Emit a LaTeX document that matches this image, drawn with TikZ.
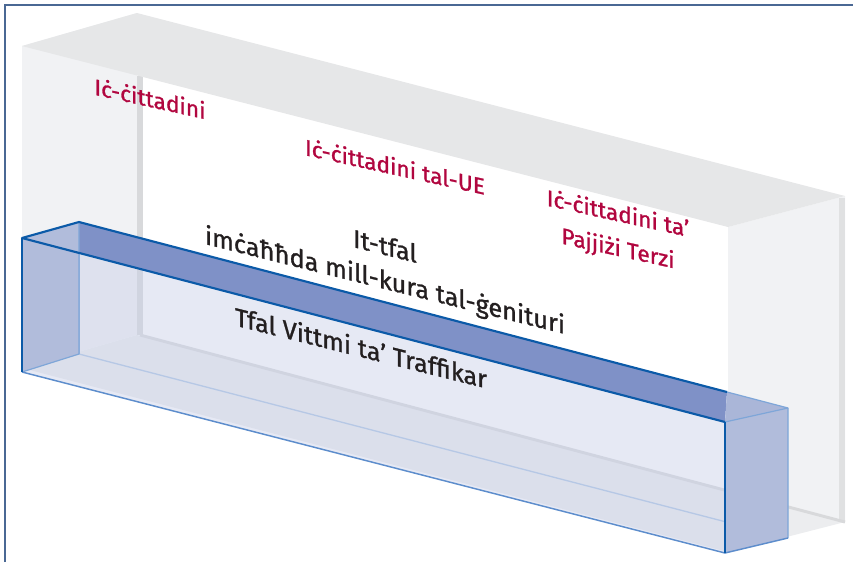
\documentclass[tikz,border=0pt]{standalone}
\usepackage{fontspec}
\setmainfont{Fira Sans}[FakeBold=1.1]
\usepackage{tikz}
\usetikzlibrary{positioning}

\definecolor{frameBlue}{HTML}{4A6894}
\definecolor{topGrey}{HTML}{E6E7E8}
\definecolor{wallGrey}{HTML}{F1F2F4}
\definecolor{floorGrey}{HTML}{ECEDEF}
\definecolor{edgeGrey}{HTML}{D8D9DB}
\definecolor{lidBlue}{HTML}{7F91C7}
\definecolor{endBlue}{HTML}{B1BCDB}
\definecolor{paleLid}{HTML}{AAB6D8}
\definecolor{glassBlue}{HTML}{C8CFE8}
\definecolor{darkEdge}{HTML}{0B5AA8}
\definecolor{midEdge}{HTML}{5D8DCC}
\definecolor{lightEdge}{HTML}{7EA6D8}
\definecolor{paleEdge}{HTML}{A8C3E4}
\definecolor{labelRed}{HTML}{B1063F}
\definecolor{labelBlack}{HTML}{231F20}

\begin{document}
\begin{tikzpicture}[
      x=0.75pt, y=-0.75pt,
      darkLine/.style  = {draw=darkEdge, line width=1.6pt, line join=round},
      lightLine/.style = {draw=lightEdge, line width=0.9pt, line join=round},
      redLabel/.style  = {text=labelRed, align=center, anchor=base,
        font=\fontsize{17}{26}\selectfont, yslant=-0.22, inner sep=0pt},
      blackLabel/.style = {text=labelBlack, align=center, anchor=base,
        font=\fontsize{19}{25.5}\selectfont, yslant=-0.25, inner sep=0pt}
    ]
    \useasboundingbox (0,0) rectangle (853,562);

    % ---------------- frame ----------------
    \draw[frameBlue, line width=1.5pt] (5,562) -- (5,5) -- (853,5);

    % ---------------- grey box ----------------
    \coordinate (gFLT) at (22,46);
    \coordinate (gBLT) at (137,13);
    \coordinate (gBRT) at (845,196);
    \coordinate (gFRT) at (728,227);
    \coordinate (gFLB) at (22,368);
    \coordinate (gBLB) at (137,335);
    \coordinate (gBRB) at (845,522);
    \coordinate (gFRB) at (728,552);
    \coordinate (gFoot) at (728,491);

    \fill[floorGrey] (gFLB) -- (gBLB) -- (gBRB) -- (gFRB) -- cycle;
    \fill[wallGrey] (gFLT) -- (gBLT) -- (gBLB) -- (gFLB) -- cycle;
    \fill[wallGrey] (gFRT) -- (gBRT) -- (gBRB) -- (gFoot) -- cycle;
    \fill[edgeGrey] (137,76) rectangle (143,335);
    \fill[edgeGrey!80] (839,198) rectangle (845,522);
    \draw[edgeGrey, line width=2.2pt] (140,335) -- (gBRB);
    \fill[topGrey] (gFLT) -- (gBLT) -- (gBRT) -- (gFRT) -- cycle;

    % ---------------- blue box ----------------
    \coordinate (bFLT) at (22,238);
    \coordinate (bBLT) at (79,222);
    \coordinate (bBRT) at (788,408);
    \coordinate (bFRT) at (725,422);
    \coordinate (bFLB) at (22,372);
    \coordinate (bBLB) at (79,354);
    \coordinate (bBRB) at (788,538);
    \coordinate (bFRB) at (725,553);
    \coordinate (bCut) at (727,392);

    % back edges
    \draw[paleEdge, line width=1pt] (bBLB) -- (bBRB);
    \draw[lightLine] (bBLT) -- (bBLB);
    % front glass
    \fill[glassBlue, fill opacity=0.46] (bFLT) -- (bFRT) -- (bFRB) -- (bFLB) -- cycle;
    % lid and ends
    \fill[lidBlue] (bFLT) -- (bBLT) -- (bCut) -- (bFRT) -- cycle;
    \fill[paleLid] (bFRT) -- (bCut) -- (bBRT) -- cycle;
    \fill[endBlue] (bFLT) -- (bBLT) -- (bBLB) -- (bFLB) -- cycle;
    \fill[endBlue] (bFRT) -- (bBRT) -- (bBRB) -- (bFRB) -- cycle;

    \draw[lightLine] (bCut) -- (bBRT) -- (bBRB);
    \draw[lightLine] (bFRT) -- (bBRT);
    \draw[lightLine] (bBLT) -- (bBLB) -- (bFLB);
    \draw[midEdge, line width=1.1pt] (bFLB) -- (bFRB) -- (bBRB);
    \draw[darkLine] (bFRT) -- (bFLT) -- (bBLT) -- (bCut);
    \draw[darkLine] (bFLT) -- (bFLB);
    \draw[darkLine] (bFRT) -- (bFRB);

    % ---------------- labels ----------------
    % (base = baseline of the last line)
    \node[redLabel] (citizens)   at (150,107) {Iċ-ċittadini};
    \node[redLabel] (euCitizens) at (395,175) {Iċ-ċittadini tal-UE};
    \node[redLabel] (tcnCitizens) at (618,256) {Iċ-ċittadini ta’\\Pajjiżi Terzi};

    \node[blackLabel] (careless) at (385,289)
    {It-tfal\\imċaħħda mill-kura tal-ġenituri};
    \node[blackLabel] (trafficked) at (361,357) {Tfal Vittmi ta’ Traffikar};

  \end{tikzpicture}
\end{document}
